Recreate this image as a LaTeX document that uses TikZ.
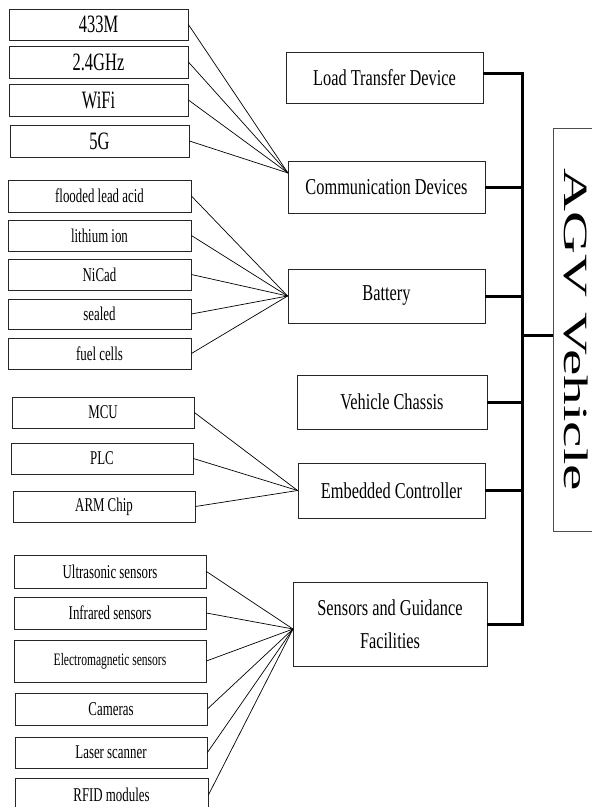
\documentclass[tikz,border=0pt]{standalone}
\usepackage{fontspec}
\setmainfont{Liberation Serif}
\newfontfamily\narrowfont{Liberation Serif}[FakeStretch=0.66]
\newfontfamily\midfont{Liberation Serif}[FakeStretch=0.72]
\newfontfamily\widefont{Liberation Serif}[FakeStretch=1.75]

\begin{document}
\begin{tikzpicture}[x=1pt, y=-1pt]
  \path[use as bounding box, fill=white] (0, 0) rectangle (592, 807);  % Seitenrahmen wie im Original.
  \tikzstyle{item}=[draw=black!85, line width=0.8pt, inner sep=0pt, font=\narrowfont\fontsize{19.5}{23}\selectfont]
  \tikzstyle{bigitem}=[item, font=\narrowfont\fontsize{25}{30}\selectfont]
  \tikzstyle{part}=[draw=black!85, line width=0.8pt, inner sep=0pt, align=center, font=\midfont\fontsize{22.7}{33}\selectfont]
  \tikzstyle{fan}=[line width=0.7pt]
  \tikzstyle{trunk}=[line width=3pt]

  % linke Spalte
  \node[bigitem, minimum width=179pt, minimum height=31pt] (uhf)   at (98.5, 24.5)  {433M};
  \node[bigitem, minimum width=179pt, minimum height=32pt] (ism)   at (98.5, 62)    {2.4GHz};
  \node[bigitem, minimum width=179pt, minimum height=32pt] (wifi)  at (98.5, 100)   {WiFi};
  \node[bigitem, minimum width=179pt, minimum height=32pt] (fiveg) at (99.5, 141)   {5G};

  \node[item, minimum width=183pt, minimum height=32pt] (lead)    at (99.5, 196)   {flooded lead acid};
  \node[item, minimum width=183pt, minimum height=31pt] (lithium) at (99.5, 235.5) {lithium ion};
  \node[item, minimum width=183pt, minimum height=31pt] (nicad)   at (99.5, 274.5) {NiCad};
  \node[item, minimum width=183pt, minimum height=30pt] (sealed)  at (99.5, 314)   {sealed};
  \node[item, minimum width=183pt, minimum height=31pt] (fuel)    at (99.5, 353.5) {fuel cells};

  \node[item, minimum width=182pt, minimum height=31pt] (mcu) at (103, 412.5) {MCU};
  \node[item, minimum width=182pt, minimum height=31pt] (plc) at (102, 458.5) {PLC};
  \node[item, minimum width=182pt, minimum height=31pt] (arm) at (104, 506.5) {ARM Chip};

  \node[item, minimum width=192pt, minimum height=33pt] (ultra)  at (110, 571.5) {Ultrasonic sensors};
  \node[item, minimum width=192pt, minimum height=32pt] (infra)  at (110, 613)   {Infrared sensors};
  \node[item, minimum width=192pt, minimum height=42pt, font=\narrowfont\fontsize{17.5}{21}\selectfont] (emag) at (110, 661) {Electromagnetic sensors};
  \node[item, minimum width=192pt, minimum height=32pt] (camera) at (111, 709)   {Cameras};
  \node[item, minimum width=192pt, minimum height=31pt] (laser)  at (111, 752.5) {Laser scanner};
  \node[item, minimum width=193pt, minimum height=34pt] (rfid)   at (111.5, 795) {RFID modules};

  % mittlere Spalte
  \node[part, minimum width=197pt, minimum height=51pt] (load)     at (384.5, 77.5) {Load Transfer Device};
  \node[part, minimum width=197pt, minimum height=52pt] (comm)     at (386.5, 187)  {Communication Devices};
  \node[part, minimum width=197pt, minimum height=54pt] (battery)  at (386.5, 296)  {Battery};
  \node[part, minimum width=190pt, minimum height=54pt] (chassis)  at (392, 402)    {Vehicle Chassis};
  \node[part, minimum width=187pt, minimum height=55pt] (embedded) at (391.5, 490.5) {Embedded Controller};
  \node[part, minimum width=194pt, minimum height=84pt] (sensors)  at (390, 624)    {Sensors and Guidance\\Facilities};

  \node[draw=black!70, line width=0.8pt, inner sep=0pt, rotate=-90, minimum width=403pt, minimum height=47pt,
        font=\widefont\fontsize{34}{40}\selectfont] (agv) at (576.5, 330) {AGV Vehicle};

  \coordinate (commin) at (288, 173);
  \coordinate (sensin) at (293, 629);
  \coordinate (bar) at (522, 0);
  \coordinate (hub) at (522, 335);

  \path[fan] (uhf.east)   edge (commin);
  \path[fan] (ism.east)   edge (commin);
  \path[fan] (wifi.east)  edge (commin);
  \path[fan] (fiveg.east) edge (commin);

  \path[fan] (lead.east)    edge (battery.west);
  \path[fan] (lithium.east) edge (battery.west);
  \path[fan] (nicad.east)   edge (battery.west);
  \path[fan] (sealed.east)  edge (battery.west);
  \path[fan] (fuel.east)    edge (battery.west);

  \path[fan] (mcu.east) edge (embedded.west);
  \path[fan] (plc.east) edge (embedded.west);
  \path[fan] (arm.east) edge (embedded.west);

  \path[fan] (ultra.east)  edge (sensin);
  \path[fan] (infra.east)  edge (sensin);
  \path[fan] (emag.east)   edge (sensin);
  \path[fan] (camera.east) edge (sensin);
  \path[fan] (laser.east)  edge (sensin);
  \path[fan] (rfid.east)   edge (sensin);

  \draw[trunk] ([yshift=4pt]load.east) -| (bar |- sensors.east) -- (sensors.east);
  \path[trunk] (comm.east)     edge (bar |- comm.east);
  \path[trunk] (battery.east)  edge (bar |- battery.east);
  \path[trunk] (chassis.east)  edge (bar |- chassis.east);
  \path[trunk] (embedded.east) edge (bar |- embedded.east);
  \path[trunk] (hub) edge (hub -| agv.south);
\end{tikzpicture}
\end{document}
